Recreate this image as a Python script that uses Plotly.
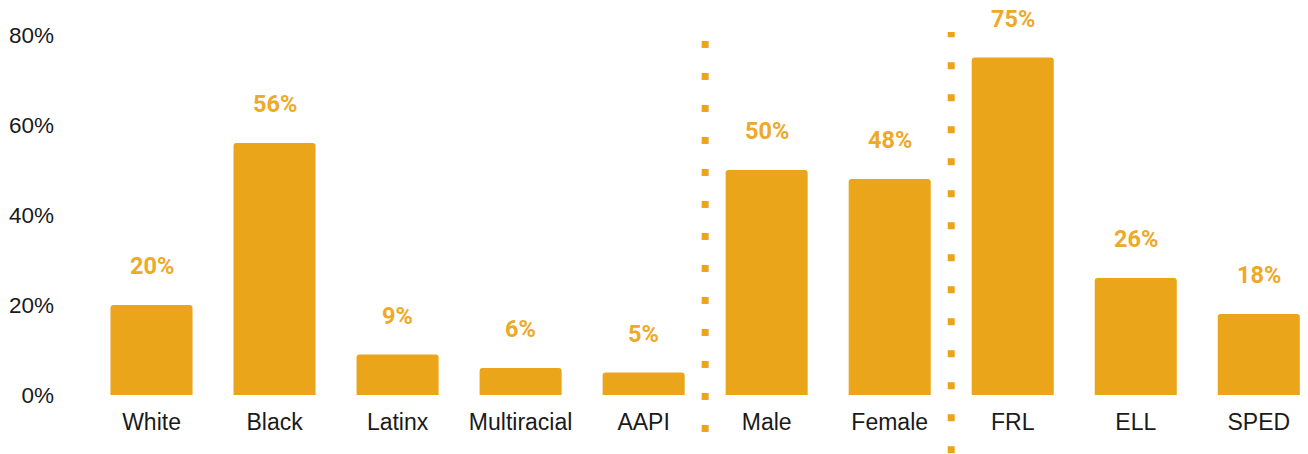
import plotly.graph_objects as go

categories = ["White", "Black", "Latinx", "Multiracial", "AAPI", "Male", "Female", "FRL", "ELL", "SPED"]
values = [20, 56, 9, 6, 5, 50, 48, 75, 26, 18]
value_labels = ["20%", "56%", "9%", "6%", "5%", "50%", "48%", "75%", "26%", "18%"]
y_ticks = [0, 20, 40, 60, 80]
y_tick_labels = ["0%", "20%", "40%", "60%", "80%"]
divider_after = ["AAPI", "Female"]

BAR = "#EBA51A"
LBL = "#EDA928"

fig = go.Figure()
fig.add_trace(go.Bar(
    x=categories, y=values,
    marker=dict(color=BAR, line=dict(width=0), cornerradius=3),
    hoverinfo="skip",
))

for c, v, t in zip(categories, values, value_labels):
    fig.add_annotation(
        x=c, y=v, text=t, showarrow=False, yanchor="middle", yshift=39,
        font=dict(family="Roboto", size=23.5, color=LBL, weight="bold"),
    )

# dotted dividers (paper y: plot spans pixel 26..395)
divider_extent = {"AAPI": (-0.1003, 0.962), "Female": (-0.158, 0.984)}
for cat in divider_after:
    i = categories.index(cat)
    y0, y1 = divider_extent[cat]
    fig.add_shape(
        type="line", xref="x", yref="paper",
        x0=i + 0.5, x1=i + 0.5, y0=y0, y1=y1,
        line=dict(color=BAR, width=7, dash="7px,25px"),
    )

fig.update_layout(
    width=1308, height=454,
    margin=dict(l=90, r=0, t=26, b=59),
    paper_bgcolor="white", plot_bgcolor="white",
    showlegend=False, bargap=0.333,
    font=dict(family="Liberation Sans, Arial", size=23, color="#1a1a1a"),
)
fig.update_xaxes(
    range=[-0.5, 9.4], showgrid=False, zeroline=False, showline=False,
    ticks="", ticklabelstandoff=11, tickfont=dict(size=23), automargin=False,
)
fig.update_yaxes(
    range=[0, 82], tickvals=y_ticks, ticktext=y_tick_labels,
    showgrid=False, zeroline=False, showline=False, ticks="",
    ticklabelstandoff=35, tickfont=dict(size=22.5), automargin=False,
)

fig.write_html(
    "out.html",
    config={"displayModeBar": False},
    post_script="document.body.style.margin='0';document.body.style.overflow='hidden';",
)
